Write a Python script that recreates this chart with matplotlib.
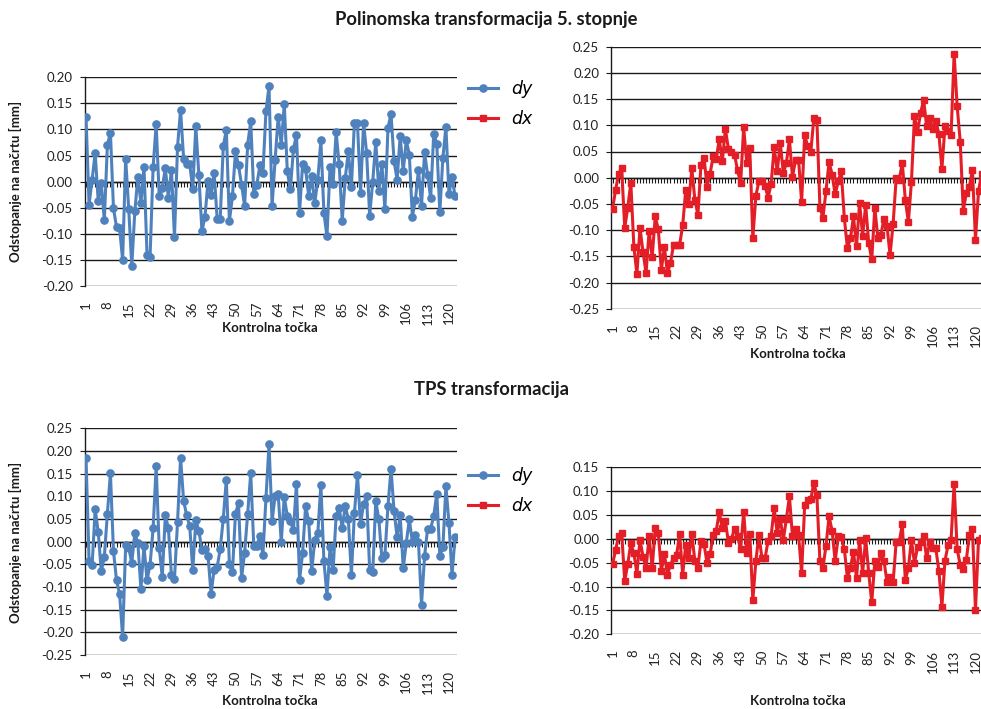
import numpy as np
import matplotlib
matplotlib.use("Agg")
import matplotlib.pyplot as plt

plt.rcParams['font.family'] = ['Lato', 'DejaVu Sans']

# ---------------- data ----------------
dy_poly = [
    0.124, -0.044, 0.004, 0.055, -0.038, -0.003, -0.074, 0.070, 0.094, -0.051,
    -0.087, -0.089, -0.150, 0.044, -0.053, -0.162, -0.057, 0.009, -0.041, 0.028,
    -0.140, -0.144, 0.028, 0.110, -0.028, -0.012, 0.026, -0.031, 0.023, -0.107,
    0.067, 0.137, 0.044, 0.033, 0.033, -0.014, 0.106, 0.012, -0.095, -0.067,
    0.001, -0.025, 0.017, -0.071, -0.071, 0.068, 0.099, -0.076, -0.028, 0.058,
    0.031, -0.006, -0.047, 0.071, 0.116, -0.023, -0.006, 0.031, 0.017, 0.135,
    0.183,
    -0.047, 0.042, 0.124, 0.071, 0.148, 0.020, -0.015, 0.062, 0.090, -0.060,
    0.033, 0.024, -0.027, 0.010, -0.041, 0.004, 0.079, -0.060, -0.105, 0.028,
    -0.004, 0.095, 0.033, -0.075, 0.007, 0.058, -0.011, 0.113, 0.112, -0.022,
    0.112, 0.055, -0.065, 0.000, 0.076, -0.017, 0.034, -0.053, 0.103, 0.130,
    0.039, 0.004, 0.087, 0.020, 0.079, 0.052, -0.067, -0.035, 0.023, -0.046,
    0.056, 0.013, -0.032, 0.092, 0.073, -0.059, 0.046, 0.105, -0.024, 0.009,
    -0.028,
]

dx_poly = [
    -0.059, -0.024, 0.007, 0.018, -0.096, -0.057, -0.010, -0.132, -0.184, -0.096,
    -0.142, -0.182, -0.101, -0.152, -0.074, -0.098, -0.176, -0.132, -0.182, -0.163,
    -0.128, -0.128, -0.128, -0.091, -0.024, -0.050, 0.018, -0.042, -0.071, 0.025,
    0.038, -0.017, 0.008, 0.041, 0.036, 0.073, 0.031, 0.093, 0.055, 0.050,
    0.044, 0.014, -0.010, 0.096, 0.028, 0.057, -0.116, -0.034, -0.007, -0.007,
    -0.015, -0.038, -0.012, 0.058, 0.012, 0.066, 0.009, 0.028, 0.073,
    0.001, 0.034, 0.034, -0.046, 0.081, 0.060, 0.049, 0.113, 0.111, -0.057,
    -0.076, -0.025, 0.030, 0.006, -0.032, -0.007, 0.012, -0.077, -0.134, -0.116,
    -0.074, -0.131, -0.048, -0.111, -0.052, -0.125, -0.156, -0.057, -0.116, -0.109,
    -0.078, -0.093, -0.147, -0.088, -0.001, -0.004, 0.028, -0.042, -0.085, -0.008,
    0.117, 0.088, 0.123, 0.149, 0.098, 0.114, 0.093, 0.109, 0.083, 0.017,
    0.098, 0.090, 0.081, 0.237, 0.136, 0.069, -0.063, -0.029, -0.017, 0.015,
    -0.118, -0.026, 0.007,
]

dy_tps = [
    0.184, -0.043, -0.052, 0.072, 0.021, -0.065, -0.034, 0.062, 0.151, -0.021,
    -0.085, -0.115, -0.210, -0.007, -0.013, -0.047, 0.019, -0.004, -0.104, -0.010,
    -0.085, -0.051, 0.030, 0.166, -0.014, -0.078, 0.058, 0.030, -0.073, -0.082,
    0.043, 0.185, 0.090, 0.058, 0.034, -0.063, 0.047, 0.024, -0.019, -0.016,
    -0.031, -0.115, -0.062, -0.056, -0.016, 0.051, 0.137, -0.049, -0.068, 0.062,
    0.085, -0.080, -0.024, 0.062, 0.151, -0.009, -0.009, 0.013, -0.029, 0.096,
    0.215,
    0.045, 0.101, 0.106, -0.001, 0.099, 0.056, 0.046, 0.026, 0.128, -0.085,
    -0.026, 0.079, 0.045, -0.065, 0.004, 0.019, 0.126, -0.043, -0.119, -0.012,
    -0.063, 0.057, 0.074, 0.030, 0.079, 0.050, -0.074, 0.063, 0.148, 0.040,
    0.082, 0.100, -0.063, -0.068, 0.089, 0.050, -0.036, -0.030, 0.079, 0.160,
    0.067, 0.010, 0.058, -0.058, -0.003, 0.049, -0.001, 0.015, -0.001, -0.139,
    -0.032, 0.029, 0.029, 0.056, 0.106, -0.031, -0.012, 0.122, 0.041, -0.074,
    0.010,
]

dx_tps = [
    -0.053, -0.024, 0.006, 0.012, -0.088, -0.053, -0.009, -0.030, -0.073, -0.002,
    -0.037, -0.061, 0.005, -0.061, 0.022, 0.012, -0.067, -0.032, -0.075, -0.054,
    -0.041, -0.034, 0.010, -0.075, -0.013, -0.041, 0.010, -0.046, -0.060, -0.004,
    -0.011, -0.051, -0.032, 0.008, 0.017, 0.056, 0.022, 0.038, -0.008, 0.000,
    0.021, 0.005, -0.022, 0.056, -0.030, 0.010, -0.129, -0.046, 0.008, -0.041,
    -0.041, -0.004, 0.006, 0.064, 0.012, 0.042, -0.002, 0.042, 0.089,
    0.005, 0.021, 0.008, -0.072, 0.071, 0.082, 0.083, 0.117, 0.092, -0.047,
    -0.060, -0.014, 0.047, 0.017, -0.047, 0.005, 0.003, -0.021, -0.082, -0.060,
    -0.027, -0.082, -0.002, -0.072, 0.001, -0.072, -0.133, -0.047, -0.058, -0.030,
    -0.046, -0.091, -0.079, -0.091, -0.006, -0.007, 0.031, -0.086, -0.061, -0.002,
    -0.051, -0.018, -0.007, 0.006, -0.041, -0.007, -0.020, -0.020, -0.067, -0.142,
    -0.046, -0.013, -0.002, 0.115, -0.022, -0.054, -0.063, -0.044, 0.008, 0.021,
    -0.149, -0.002, 0.001,
]

points = np.arange(1, len(dy_poly) + 1)          # control point numbers
tick_points = list(range(1, 121, 7))              # 1, 8, ..., 120

title_poly = "Polinomska transformacija 5. stopnje"
title_tps = "TPS transformacija"
ylabel = "Odstopanje na načrtu [mm]"
xlabel = "Kontrolna točka"
label_dy = "dy"
label_dx = "dx"

# ---------------- layout ----------------
W, H = 981, 709
fig = plt.figure(figsize=(W / 100, H / 100), dpi=100)

BLUE = '#4F81BD'
RED = '#E41E26'


def px_axes(left, top, right, bottom):
    return fig.add_axes([left / W, 1 - bottom / H, (right - left) / W, (bottom - top) / H])


def style(ax, ylo, yhi):
    ax.set_xlim(points[0] - 0.5, points[-1] + 0.6)
    ax.set_ylim(ylo, yhi)
    yt = [round(v, 2) + 0.0 for v in np.arange(ylo, yhi + 1e-9, 0.05)]
    ax.set_yticks(yt)
    ax.set_yticklabels(['%.2f' % (0.0 if abs(v) < 1e-9 else v) for v in yt])
    ax.grid(axis='y', color='#1a1a1a', lw=1.0, zorder=0)
    ax.set_axisbelow(True)
    for s in ('top', 'right'):
        ax.spines[s].set_visible(False)
    ax.spines['left'].set_color('#1a1a1a')
    ax.spines['left'].set_linewidth(1.0)
    ax.spines['bottom'].set_position(('data', 0))
    ax.spines['bottom'].set_color('#1a1a1a')
    ax.spines['bottom'].set_linewidth(1.0)
    ax.set_xticks(points)
    ax.tick_params(axis='x', length=3.5, width=0.8, direction='out', labelbottom=False,
                   color='#1a1a1a')
    ax.tick_params(axis='y', length=3.5, width=0.8, direction='out', pad=5,
                   labelsize=9.5, labelcolor='#222222', color='#1a1a1a')
    sec = ax.secondary_xaxis('bottom')
    sec.set_xticks(tick_points)
    sec.set_xticklabels([str(t) for t in tick_points])
    sec.tick_params(length=0, pad=11, labelsize=9.5, labelrotation=90, labelcolor='#222222')
    sec.spines['bottom'].set_visible(False)
    for lab in sec.get_xticklabels():
        lab.set_va('top')


ax1 = px_axes(84.5, 77.3, 456.9, 286.0)
ax2 = px_axes(611.0, 46.7, 983.4, 308.7)
ax3 = px_axes(84.5, 428.3, 456.9, 655.0)
ax4 = px_axes(611.0, 467.3, 983.4, 634.3)

style(ax1, -0.20, 0.20)
style(ax2, -0.25, 0.25)
style(ax3, -0.25, 0.25)
style(ax4, -0.20, 0.15)

kw_dy = dict(color=BLUE, lw=2.2, marker='o', ms=5.2, mec=BLUE, mfc=BLUE, zorder=3)
kw_dx = dict(color=RED, lw=2.2, marker='s', ms=5.0, mec=RED, mfc=RED, zorder=3)

l1, = ax1.plot(points, dy_poly, label=label_dy, **kw_dy)
l2, = ax2.plot(points, dx_poly, label=label_dx, **kw_dx)
l3, = ax3.plot(points, dy_tps, label=label_dy, **kw_dy)
l4, = ax4.plot(points, dx_tps, label=label_dx, **kw_dx)

# legends
for handles, ycen in (((l1, l2), 104), ((l3, l4), 491)):
    fig.legend(handles, [label_dy, label_dx], loc='center left',
               bbox_to_anchor=(468 / W, 1 - ycen / H), frameon=False,
               prop=dict(family=['DejaVu Sans'], style='italic', size=12.5),
               handlelength=1.75, handletextpad=0.75, labelspacing=0.72,
               borderaxespad=0, borderpad=0)

# titles and axis labels
fig.text(486 / W, 1 - 20 / H, title_poly, ha='center', va='center',
         fontsize=13.2, fontweight='bold', color='#1a1a1a')
fig.text(491 / W, 1 - 390 / H, title_tps, ha='center', va='center',
         fontsize=13.2, fontweight='bold', color='#1a1a1a')
for ycen in (181, 542):
    fig.text(15 / W, 1 - ycen / H, ylabel, ha='center', va='center', rotation=90,
             fontsize=9.5, fontweight='bold', color='#1a1a1a')
for xc, yc in ((270, 328), (798, 354), (270, 701), (798, 701)):
    fig.text(xc / W, 1 - yc / H, xlabel, ha='center', va='center',
             fontsize=9.5, fontweight='bold', color='#1a1a1a')

fig.savefig('out.png', dpi=100)
